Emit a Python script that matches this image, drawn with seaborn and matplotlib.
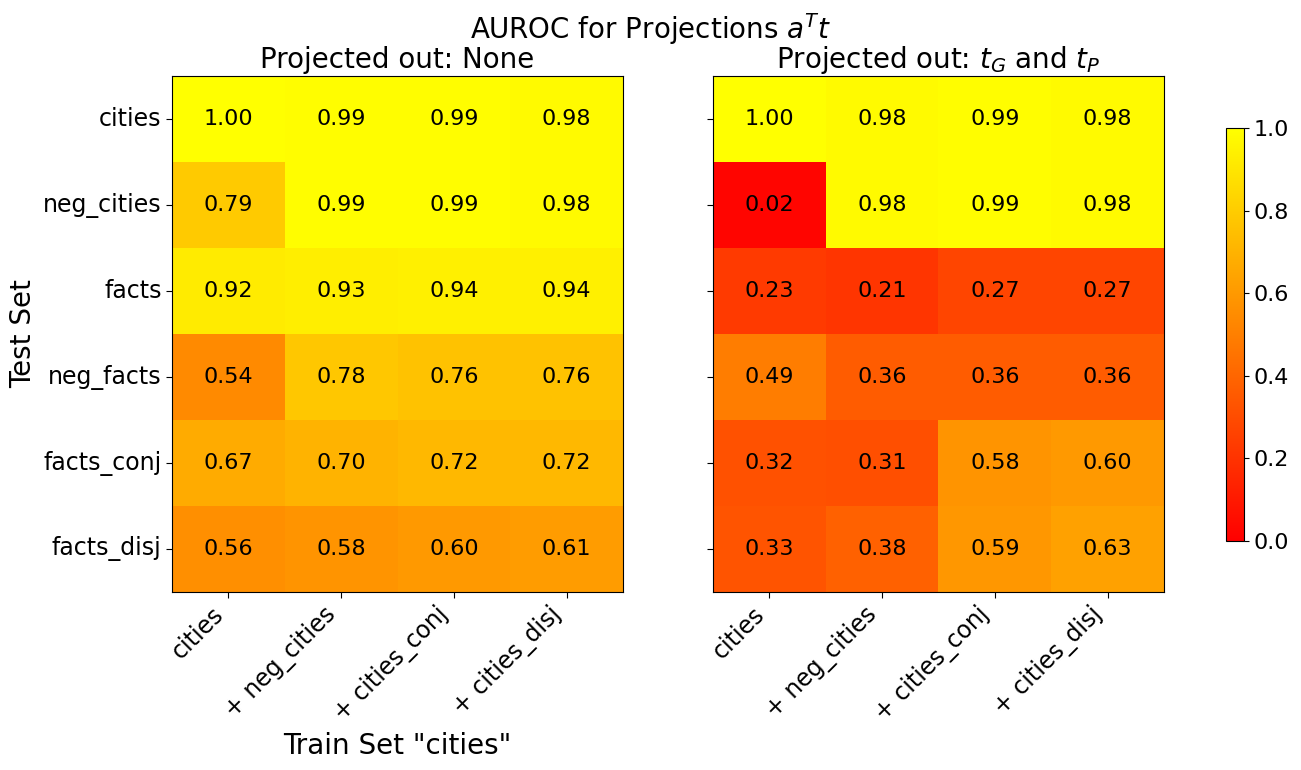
import numpy as np
import pandas as pd
import seaborn as sns
import matplotlib.pyplot as plt
from matplotlib.cm import ScalarMappable
from matplotlib.colors import Normalize

test_sets = ['cities', 'neg_cities', 'facts', 'neg_facts', 'facts_conj', 'facts_disj']
train_sets = ['cities', '+ neg_cities', '+ cities_conj', '+ cities_disj']

auroc_none = [
    [1.00, 0.99, 0.99, 0.98],
    [0.79, 0.99, 0.99, 0.98],
    [0.92, 0.93, 0.94, 0.94],
    [0.54, 0.78, 0.76, 0.76],
    [0.67, 0.70, 0.72, 0.72],
    [0.56, 0.58, 0.60, 0.61],
]
auroc_proj = [
    [1.00, 0.98, 0.99, 0.98],
    [0.02, 0.98, 0.99, 0.98],
    [0.23, 0.21, 0.27, 0.27],
    [0.49, 0.36, 0.36, 0.36],
    [0.32, 0.31, 0.58, 0.60],
    [0.33, 0.38, 0.59, 0.63],
]

df_none = pd.DataFrame(auroc_none, index=test_sets, columns=train_sets)
df_proj = pd.DataFrame(auroc_proj, index=test_sets, columns=train_sets)

fig = plt.figure(figsize=(13.01, 7.7), dpi=100)
ax1 = fig.add_axes([0.1322, 0.2312, 0.3467, 0.670])
ax2 = fig.add_axes([0.548, 0.2312, 0.3467, 0.670])
cax = fig.add_axes([0.9424, 0.2974, 0.0138, 0.536])

for ax, df, title in [(ax1, df_none, 'Projected out: None'),
                      (ax2, df_proj, 'Projected out: $t_G$ and $t_P$')]:
    sns.heatmap(df, ax=ax, cmap='autumn', vmin=0, vmax=1, annot=True, fmt='.2f',
                annot_kws={'fontsize': 16, 'color': 'black'}, cbar=False)
    for s in ax.spines.values():
        s.set_visible(True)
        s.set_color('black')
    ax.set_title(title, fontsize=20)
    ax.set_xticklabels(train_sets, rotation=45, ha='right', fontsize=17)
    ax.tick_params(axis='both', length=4)

ax1.set_yticklabels(test_sets, rotation=0, fontsize=17)
ax2.set_yticklabels([])
ax1.set_xlabel('Train Set "cities"', fontsize=20)
ax1.set_ylabel('Test Set', fontsize=20)

cb = fig.colorbar(ScalarMappable(norm=Normalize(0, 1), cmap='autumn'), cax=cax)
cb.set_ticks([0.0, 0.2, 0.4, 0.6, 0.8, 1.0])
cb.ax.tick_params(labelsize=16)

fig.suptitle('AUROC for Projections $a^Tt$', fontsize=20, y=0.985)
fig.savefig('out.png', dpi=100)
